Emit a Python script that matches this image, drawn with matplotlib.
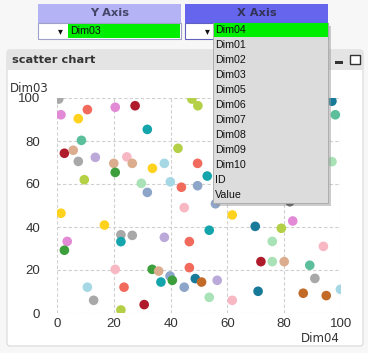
import matplotlib
matplotlib.use("Agg")
import matplotlib.pyplot as plt
from matplotlib.patches import Rectangle, FancyBboxPatch

W, H = 368, 353

palette = {
    "gray": "#a8a8a8", "orchid": "#e38ad6", "gold": "#ffd21e", "tomato": "#f26a5c",
    "darkred": "#b01b2c", "teal": "#13a5ab", "aqua": "#5cbf9c", "tan": "#dcac8e",
    "lavender": "#bba9da", "lightpink": "#f7b8c3", "green": "#3c9f3c",
    "lightblue": "#a5d8e4", "yellowgreen": "#b3d046", "lightgreen": "#a8e2b6",
    "steelblue": "#8ca5c8", "darkteal": "#177a98", "brown": "#c26a28", "dark": "#3a3a3a",
}

dim04 = [0.6, 1.4, 7.5, 10.7, 20.5, 27.5, 31.8, 8.6, 2.6, 5.7, 7.5, 13.5, 20.0, 24.6,
         26.5, 20.5, 33.6, 37.8, 42.6, 49.5, 47.5, 49.6, 9.6, 29.7, 31.8, 39.9, 43.8,
         49.5, 44.8, 1.4, 16.7, 52.9, 55.8, 53.6, 22.5, 26.5, 22.5, 37.8, 46.6, 20.5,
         33.5, 35.8, 46.6, 39.8, 40.6, 36.6, 23.6, 44.8, 48.7, 50.9, 56.4, 53.6, 30.7,
         22.5, 3.6, 2.6, 10.7, 12.9, 69.8, 79.0, 83.0, 75.8, 93.8, 71.8, 75.8, 80.0,
         89.0, 90.8, 61.7, 70.8, 86.7, 94.8, 99.8, 96.8, 98.0, 96.8, 61.7, 82.0]
dim03 = [99.5, 92.2, 90.4, 94.6, 95.7, 96.4, 85.4, 80.3, 74.3, 75.7, 70.5, 72.4, 69.6, 72.6,
         69.6, 65.4, 67.3, 69.6, 76.6, 69.6, 99.5, 96.4, 62.0, 60.3, 56.1, 61.0, 58.5,
         59.2, 49.0, 46.4, 40.9, 63.7, 50.8, 38.5, 36.4, 36.1, 33.2, 35.2, 33.2, 20.3,
         20.3, 19.5, 21.1, 17.2, 15.2, 14.4, 12.0, 12.0, 16.0, 14.4, 15.2, 7.3, 3.9,
         1.4, 33.3, 29.2, 12.0, 5.9, 40.3, 39.4, 42.8, 33.3, 31.0, 23.9, 23.9, 23.9,
         22.2, 16.1, 5.9, 10.1, 9.2, 8.1, 11.0, 98.5, 92.2, 70.4, 45.6, 51.8]
groups = ["gray", "orchid", "gold", "tomato", "orchid", "darkred", "teal", "aqua", "darkred",
          "tan", "gray", "lavender", "tan", "lightpink", "tan", "green", "gold", "lightblue",
          "yellowgreen", "tomato", "yellowgreen", "yellowgreen", "yellowgreen", "lightgreen",
          "steelblue", "lightblue", "tomato", "steelblue", "lightpink", "gold", "gold", "teal",
          "steelblue", "teal", "gray", "gray", "teal", "lavender", "tomato", "lightpink",
          "green", "tan", "tomato", "steelblue", "green", "teal", "tomato", "steelblue",
          "darkteal", "brown", "lavender", "lightgreen", "darkred", "yellowgreen", "orchid",
          "green", "lightblue", "gray", "darkteal", "yellowgreen", "orchid", "lightgreen",
          "lightpink", "darkred", "lightgreen", "tan", "aqua", "gray", "lightpink", "darkteal",
          "brown", "brown", "lightblue", "darkteal", "aqua", "lightgreen", "gold", "dark"]

x_ticks = [0, 20, 40, 60, 80, 100]
y_ticks = [0, 20, 40, 60, 80, 100]
list_items = ["Dim01", "Dim02", "Dim03", "Dim05", "Dim06", "Dim07", "Dim08", "Dim09",
              "Dim10", "ID", "Value"]

sans = ["Liberation Sans", "DejaVu Sans"]

fig = plt.figure(figsize=(W / 100, H / 100), dpi=100)
fig.patch.set_facecolor("#f7f7f7")


def px_rect(x, y, w, h, zorder=1, **kw):
    r = Rectangle((x / W, 1 - (y + h) / H), w / W, h / H, transform=fig.transFigure,
                  zorder=zorder, **kw)
    fig.add_artist(r)
    return r


def px_text(x, y, s, **kw):
    fig.text(x / W, 1 - y / H, s, **kw)


# chart panel (behind the axes)
panel = FancyBboxPatch((7 / W, 1 - 346 / H), 356 / W, 296 / H,
                       boxstyle="round,pad=0,rounding_size=0.008",
                       transform=fig.transFigure, facecolor="white", edgecolor="#d9d9d9",
                       lw=0.8, zorder=-2)
fig.add_artist(panel)
px_rect(7, 50, 356, 20, zorder=-1, facecolor="#e4e4e4", edgecolor="none")
px_text(12, 60, "scatter chart", fontsize=8.2, fontweight="bold", color="#333333", va="center")
px_rect(335, 61, 8, 3, facecolor="#333333", edgecolor="none")
px_rect(350, 55, 10, 9, facecolor="white", edgecolor="#333333", lw=1.0)

ax = fig.add_axes([57 / W, 40 / H, 284 / W, 215 / H])
ax.set_zorder(0)
ax.set_facecolor("none")
ax.scatter(dim04, dim03, c=[palette[g] for g in groups], s=48, linewidths=0, zorder=3)
ax.set_xlim(0, 100)
ax.set_ylim(0, 100)
ax.set_xticks(x_ticks)
ax.set_yticks(y_ticks)
ax.grid(True, color="#d0d0d0", linestyle=(0, (3, 2)), lw=0.8)
for s in ax.spines.values():
    s.set_visible(False)
ax.tick_params(length=0, labelsize=9.5, labelcolor="#333333", pad=3.5)
ax.tick_params(axis="y", pad=12)
for lab in ax.get_xticklabels() + ax.get_yticklabels():
    lab.set_family(sans)
px_text(10, 88, "Dim03", fontsize=8.5, color="#333333", va="center")
px_text(340, 338, "Dim04", fontsize=8.5, color="#333333", va="center", ha="right")

# Y axis selector
px_rect(38, 4, 143, 19, facecolor="#b3b3f5", edgecolor="none")
px_text(109.5, 13.5, "Y Axis", fontsize=8.2, fontweight="bold", color="#444466", ha="center", va="center")
px_rect(38, 23, 143, 16, facecolor="white", edgecolor="#a0a0c8", lw=0.8)
px_rect(68, 24, 112, 14, facecolor="#00ee00", edgecolor="none")
px_text(70, 31, "Dim03", fontsize=7.7, color="#111111", va="center", family=sans)
px_text(60, 31, "\u25be", fontsize=7, color="#111111", va="center", ha="center")

# X axis selector
px_rect(185, 4, 143, 19, facecolor="#6565ee", edgecolor="none")
px_text(256.5, 13.5, "X Axis", fontsize=8.2, fontweight="bold", color="#333355", ha="center", va="center")
px_rect(185, 23, 143, 16, facecolor="white", edgecolor="#6060c0", lw=0.8)
px_text(207, 31, "\u25be", fontsize=7, color="#111111", va="center", ha="center")

# open drop-down list
px_rect(216, 26, 115, 180, zorder=5, facecolor="#9a9a9a", edgecolor="none", alpha=0.5)
px_rect(213, 23, 115, 180, zorder=6, facecolor="#dcdcdc", edgecolor="#a8a8a8", lw=0.6)
px_rect(213.5, 23, 114.5, 14, zorder=7, facecolor="#00ee00", edgecolor="none")
fig.text(215 / W, 1 - 30 / H, "Dim04", fontsize=7.7, color="#111111", va="center", zorder=8,
         family=sans)
for i, item in enumerate(list_items):
    fig.text(215 / W, 1 - (45 + 15 * i) / H, item, fontsize=7.7, color="#111111",
             va="center", zorder=8, family=sans)

fig.savefig("out.png", dpi=100, facecolor=fig.get_facecolor())
